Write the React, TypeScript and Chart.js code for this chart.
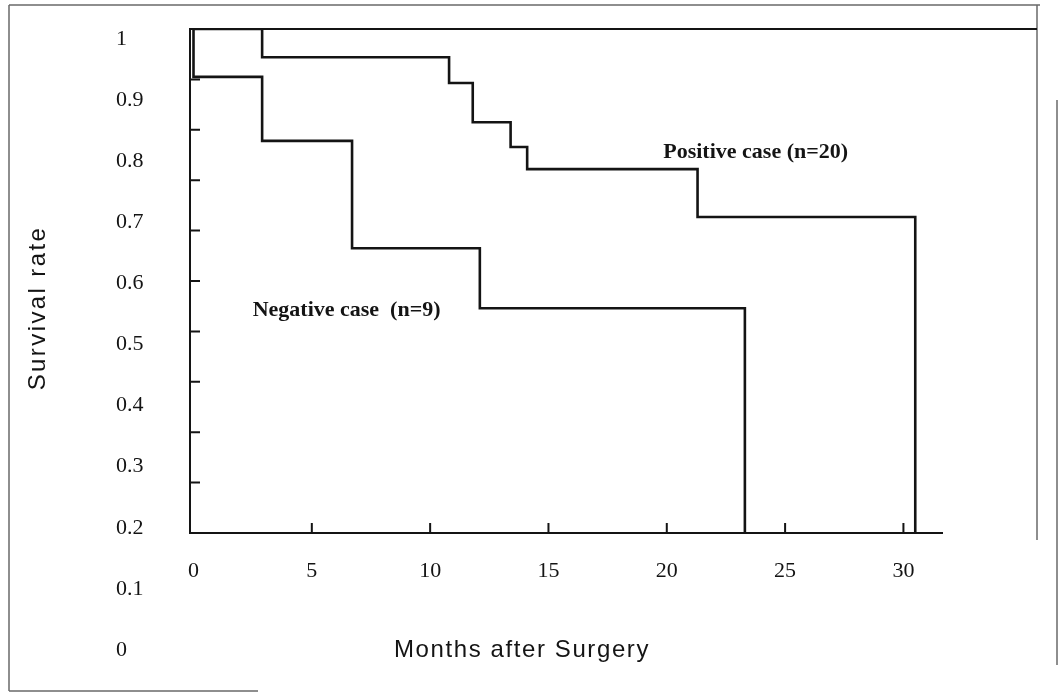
import React, { useEffect, useRef } from "react";
import { Chart, registerables } from "chart.js";

Chart.register(...registerables);

// ---- data ----
const positiveMonths = [0, 2.9, 10.8, 11.8, 13.4, 14.1, 21.3, 30.5];
const positiveSurvival = [1, 0.944, 0.893, 0.815, 0.766, 0.722, 0.627, 0];
const negativeMonths = [0, 0, 2.9, 6.7, 12.1, 23.3];
const negativeSurvival = [1, 0.905, 0.778, 0.565, 0.446, 0];
const xTickMonths = [0, 5, 10, 15, 20, 25, 30];
const yTickLabels = [1, 0.9, 0.8, 0.7, 0.6, 0.5, 0.4, 0.3, 0.2, 0.1, 0];
const yTickMarks = [0.1, 0.2, 0.3, 0.4, 0.5, 0.6, 0.7, 0.8, 0.9];
const positiveLabel = "Positive case (n=20)";
const negativeLabel = "Negative case  (n=9)";
const xTitle = "Months after Surgery";
const yTitle = "Survival rate";

const SERIF = "'Liberation Serif', 'DejaVu Serif', serif";
const SANS = "'Liberation Sans', Arial, sans-serif";
const INK = "#141414";

const framePlugin = {
  id: "frame",
  beforeDraw(chart: any) {
    const ctx = chart.ctx;
    ctx.save();
    ctx.fillStyle = "#ffffff";
    ctx.fillRect(0, 0, chart.width, chart.height);
    ctx.restore();
  },
  afterDraw(chart: any) {
    const ctx = chart.ctx;
    const xs = chart.scales.x;
    const ys = chart.scales.y;
    const y1 = ys.getPixelForValue(1);
    const y0 = ys.getPixelForValue(0);
    const left = chart.chartArea.left;
    ctx.save();
    // outer frame (grey, scanned look)
    ctx.strokeStyle = "#6a6a6a";
    ctx.lineWidth = 1.5;
    ctx.beginPath();
    ctx.moveTo(9, 5);
    ctx.lineTo(1040, 5);
    ctx.moveTo(9, 5);
    ctx.lineTo(9, 691);
    ctx.moveTo(9, 691);
    ctx.lineTo(258, 691);
    ctx.moveTo(1037, 5);
    ctx.lineTo(1037, 540);
    ctx.moveTo(1057, 100);
    ctx.lineTo(1057, 665);
    ctx.stroke();

    // plot box top and left axis
    ctx.strokeStyle = INK;
    ctx.lineWidth = 2;
    ctx.beginPath();
    ctx.moveTo(left, y1);
    ctx.lineTo(1037, y1);
    ctx.moveTo(left, y1 - 1);
    ctx.lineTo(left, y0);
    ctx.stroke();

    // inward tick marks on the y axis
    ctx.beginPath();
    yTickMarks.forEach((v) => {
      const p = ys.getPixelForValue(v);
      ctx.moveTo(left, p);
      ctx.lineTo(left + 10, p);
    });
    // upward tick marks on the x axis
    xTickMonths.slice(1).forEach((m) => {
      const p = xs.getPixelForValue(m);
      ctx.moveTo(p, y0);
      ctx.lineTo(p, y0 - 10);
    });
    ctx.stroke();

    // curve labels
    ctx.fillStyle = INK;
    ctx.font = `bold 22px ${SERIF}`;
    ctx.textBaseline = "middle";
    ctx.textAlign = "left";
    ctx.fillText(positiveLabel, xs.getPixelForValue(19.85), ys.getPixelForValue(0.755));
    ctx.fillText(negativeLabel, xs.getPixelForValue(2.5), ys.getPixelForValue(0.442));

    // axis titles
    ctx.font = `24px ${SANS}`;
    ctx.textAlign = "center";
    (ctx as any).letterSpacing = "1.6px";
    ctx.fillText(xTitle, 522, 650);
    (ctx as any).letterSpacing = "2.4px";
    ctx.translate(38, 308);
    ctx.rotate(-Math.PI / 2);
    ctx.fillText(yTitle, 0, 0);
    (ctx as any).letterSpacing = "0px";
    ctx.restore();
  },
};

export default function App() {
  const canvasRef = useRef<HTMLCanvasElement | null>(null);

  useEffect(() => {
    document.body.style.margin = "0";
    document.body.style.overflow = "hidden";
    const canvas = canvasRef.current;
    if (!canvas) return;

    const toPoints = (xs: number[], ys: number[]) => xs.map((x, i) => ({ x, y: ys[i] }));

    const chart = new Chart(canvas, {
      type: "line",
      data: {
        datasets: [
          {
            label: positiveLabel,
            data: toPoints(positiveMonths, positiveSurvival),
            borderColor: INK,
            borderWidth: 2.6,
            pointRadius: 0,
            stepped: "before",
            fill: false,
          },
          {
            label: negativeLabel,
            data: toPoints(negativeMonths, negativeSurvival),
            borderColor: INK,
            borderWidth: 2.6,
            pointRadius: 0,
            stepped: "before",
            fill: false,
          },
        ],
      },
      options: {
        animation: false,
        responsive: false,
        devicePixelRatio: 1,
        layout: { padding: { left: 116, right: 117, top: 29, bottom: 33 } },
        plugins: { legend: { display: false }, tooltip: { enabled: false }, title: { display: false } },
        scales: {
          x: {
            type: "linear",
            min: -0.148,
            max: 31.63,
            position: { y: 0 },
            afterBuildTicks: (scale: any) => {
              scale.ticks = xTickMonths.map((v) => ({ value: v }));
            },
            ticks: {
              color: INK,
              font: { family: SERIF, size: 22 },
              padding: 25,
              autoSkip: false,
              maxRotation: 0,
              callback: (v: any) => String(v),
            },
            grid: { display: false, drawTicks: false },
            border: { display: true, color: INK, width: 2 },
          },
          y: {
            type: "linear",
            display: false,
            min: -0.252,
            max: 1,
          },
          yLab: {
            type: "linear",
            position: "left",
            min: -0.0164,
            max: 1.0164,
            afterBuildTicks: (scale: any) => {
              scale.ticks = yTickLabels.map((v) => ({ value: v }));
            },
            afterFit: (scale: any) => {
              scale.width = 74;
            },
            ticks: {
              color: INK,
              font: { family: SERIF, size: 22 },
              crossAlign: "far",
              autoSkip: false,
              callback: (v: any) => (v === 1 ? "1" : v === 0 ? "0" : Number(v).toFixed(1)),
            },
            grid: { display: false, drawTicks: false },
            border: { display: false },
          },
        },
      },
      plugins: [framePlugin],
    } as any);

    return () => chart.destroy();
  }, []);

  return (
    <div style={{ width: 1059, height: 693 }}>
      <canvas ref={canvasRef} width={1059} height={693} style={{ display: "block", width: 1059, height: 693 }} />
    </div>
  );
}
